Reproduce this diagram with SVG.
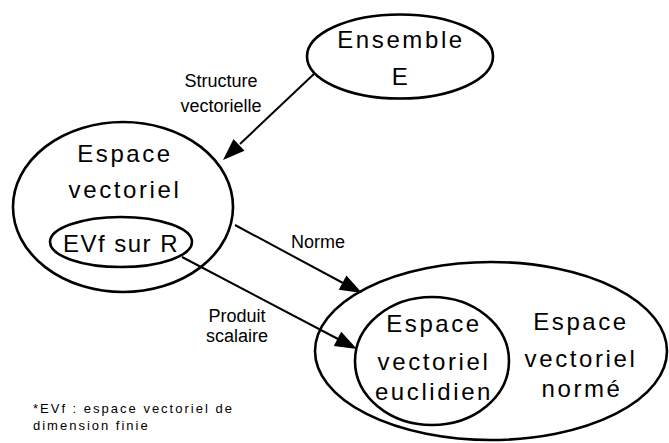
<svg xmlns="http://www.w3.org/2000/svg" width="669" height="443" viewBox="0 0 669 443">
<style>
.n{fill:none;stroke:#000;stroke-width:2.6}
.t{font-family:"Liberation Sans",Arial,sans-serif;font-size:24px;letter-spacing:2.6px;text-anchor:middle;fill:#000}
.l{font-family:"Liberation Sans",Arial,sans-serif;font-size:18px;text-anchor:middle;fill:#000}
.f{font-family:"Liberation Sans",Arial,sans-serif;font-size:13px;letter-spacing:2px;fill:#000}
.c{stroke:#000;stroke-width:2;fill:none}
.h{fill:#000;stroke:none}
</style>
<rect width="669" height="443" fill="#fff"/>
<g id="ensemble">
<ellipse class="n" cx="400" cy="56.5" rx="93" ry="42"/>
<text class="t" x="401" y="48">Ensemble</text>
<text class="t" x="401" y="85">E</text>
</g>
<g id="espace-vectoriel">
<ellipse class="n" cx="123" cy="207" rx="110" ry="85"/>
<text class="t" x="125" y="162">Espace</text>
<text class="t" x="125" y="198">vectoriel</text>
</g>
<g id="evf">
<ellipse class="n" cx="121" cy="242" rx="71" ry="25"/>
<text class="t" x="121" y="252" style="letter-spacing:1.5px">EVf sur R</text>
</g>
<g id="evn">
<ellipse class="n" cx="491" cy="351" rx="176" ry="89"/>
<text class="t" x="581" y="330">Espace</text>
<text class="t" x="581" y="367">vectoriel</text>
<text class="t" x="582" y="397">normé</text>
</g>
<g id="eve">
<ellipse class="n" cx="432" cy="361" rx="77" ry="64"/>
<text class="t" x="434" y="332">Espace</text>
<text class="t" x="434" y="370">vectoriel</text>
<text class="t" x="434" y="400">euclidien</text>
</g>
<g id="connectors">
<line class="c" x1="315" y1="73" x2="240" y2="144"/>
<path class="h" d="M223,160 L244.5,150.7 L233.5,139.1 Z"/>
<line class="c" x1="235" y1="225" x2="343" y2="283"/>
<path class="h" d="M362,293 L338.8,289.7 L346.4,275.5 Z"/>
<line class="c" x1="182" y1="257" x2="338" y2="339"/>
<path class="h" d="M357,349 L333.8,345.9 L341.2,331.7 Z"/>
<text class="l" x="221" y="87">Structure</text>
<text class="l" x="221" y="112">vectorielle</text>
<text class="l" x="318" y="248">Norme</text>
<text class="l" x="237" y="322">Produit</text>
<text class="l" x="237" y="342">scalaire</text>
</g>
<g id="footnote">
<text class="f" x="33" y="413">*EVf : espace vectoriel de</text>
<text class="f" x="33" y="430">dimension finie</text>
</g>
</svg>
